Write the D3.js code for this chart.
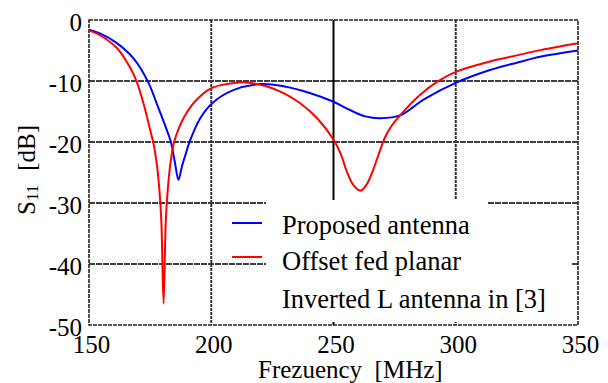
<!DOCTYPE html>
<html>
<head>
<meta charset="utf-8">
<script src="https://cdn.jsdelivr.net/npm/d3@7"></script>
<style>
  html, body { margin: 0; padding: 0; background: #fff; }
  svg { display: block; }
  text { font-family: "Liberation Serif", "DejaVu Serif", "Noto Serif", serif; fill: #000; }
</style>
</head>
<body>
<svg id="chart" width="608" height="383"></svg>
<script>
// ---- data ----
const xTicks = [150, 200, 250, 300, 350];
const yTicks = [0, -10, -20, -30, -40, -50];

const proposedFreq = [150, 154.5, 161.4, 168.2, 174.1, 177.7, 181.8, 183.5, 185.2, 186.6, 188, 189.3, 191.4, 195.5, 200.5, 209, 220, 230, 240.6, 250, 257, 263, 269.3, 277.5, 287, 300, 314, 325, 335, 350];
const proposedS11  = [-1.6, -2.2, -3.8, -6.3, -10.1, -13.7, -18.0, -20.0, -23.5, -26.2, -24.0, -22.3, -19.7, -16.1, -13.6, -11.5, -10.5, -10.9, -12.0, -13.4, -14.8, -15.8, -16.1, -15.6, -13.0, -10.3, -8.2, -7.0, -6.0, -5.0];

const offsetFreq = [150, 154.5, 161.4, 166.8, 169.5, 172.3, 175, 176.4, 177.7, 178.8, 179.6, 180.5, 181.4, 182.2, 183.3, 184.8, 186.5, 188.8, 192, 195.5, 200.5, 206.4, 213, 222.8, 229.6, 236.5, 243.3, 250, 253, 255.5, 258, 261, 263.5, 266, 268.5, 271, 273.5, 277.5, 285, 292.5, 300, 314, 325, 335, 350];
const offsetS11  = [-1.7, -2.5, -4.6, -7.8, -10.1, -13.7, -18.0, -20.3, -23.5, -27.9, -33, -46.5, -33, -27.9, -23.5, -20.0, -18.0, -16.0, -14.0, -12.5, -11.1, -10.5, -10.2, -10.9, -12.0, -13.7, -16.1, -19.6, -22.0, -24.9, -27.0, -28.0, -27.0, -24.8, -22.0, -19.3, -17.5, -15.5, -12.4, -10.1, -8.5, -6.8, -5.8, -4.9, -3.8];

const seriesNames = ["Proposed antenna", "Offset fed planar", "Inverted L antenna in [3]"];
const seriesColors = ["#0000ff", "#ff0000"];

// ---- layout ----
const FONT = '"Liberation Serif", "DejaVu Serif", "Noto Serif", serif';
const svg = d3.select("#chart");
const L = 89, R = 578, T = 20, B = 325;
const x = d3.scaleLinear().domain([150, 350]).range([L, R]);
const y = d3.scaleLinear().domain([0, -50]).range([T, B]);
const FS = 25;

// grid lines
const grid = svg.append("g");
grid.selectAll("line.h").data(yTicks.filter(d => d !== 0 && d !== -50)).join("line")
  .attr("x1", L).attr("x2", R).attr("y1", d => y(d)).attr("y2", d => y(d))
  .attr("stroke", "#000").attr("stroke-width", 1.6).attr("stroke-dasharray", "6,1");
grid.selectAll("line.v").data(xTicks.filter(d => d !== 150 && d !== 350)).join("line")
  .attr("y1", T).attr("y2", B).attr("x1", d => x(d)).attr("x2", d => x(d))
  .attr("stroke", d => d === 250 ? "#000" : "#333")
  .attr("stroke-width", 2)
  .attr("stroke-dasharray", d => d === 250 ? null : "3,1");

// frame
svg.append("rect").attr("x", L).attr("y", T).attr("width", R - L).attr("height", B - T)
  .attr("fill", "none").attr("stroke", "#222").attr("stroke-width", 1.6).attr("stroke-dasharray", "4,1");

// legend background
svg.append("rect").attr("x", 266).attr("y", 205).attr("width", 306).attr("height", 117).attr("fill", "#fff");
svg.append("rect").attr("x", 266).attr("y", 200).attr("width", 221).attr("height", 6).attr("fill", "#fff");

// curves
const line = d3.line().x(d => x(d[0])).y(d => y(d[1])).curve(d3.curveCatmullRom.alpha(0.5));
svg.append("path").datum(proposedFreq.map((f, i) => [f, proposedS11[i]]))
  .attr("d", line).attr("fill", "none").attr("stroke", seriesColors[0]).attr("stroke-width", 2);
svg.append("path").datum(offsetFreq.map((f, i) => [f, offsetS11[i]]))
  .attr("d", line).attr("fill", "none").attr("stroke", seriesColors[1]).attr("stroke-width", 2);

// axes (labels only)
const xAxis = svg.append("g").attr("transform", `translate(0,${B})`)
  .call(d3.axisBottom(x).tickValues(xTicks).tickSize(0).tickPadding(10).tickFormat(d3.format("d")));
xAxis.attr("font-family", FONT);
xAxis.select(".domain").remove();
xAxis.selectAll("text").attr("font-size", FS).attr("dx", 2).style("font-family", FONT);

const yAxis = svg.append("g").attr("transform", `translate(${L},0)`)
  .call(d3.axisLeft(y).tickValues(yTicks).tickSize(0).tickPadding(7).tickFormat(d => d === 0 ? "0" : "-" + Math.abs(d)));
yAxis.attr("font-family", FONT);
yAxis.select(".domain").remove();
yAxis.selectAll("text").attr("font-size", FS).attr("dy", "0.4em").style("font-family", FONT);

// axis titles
svg.append("text").attr("x", 258).attr("y", 378).attr("font-size", FS)
  .style("font-family", FONT).style("white-space", "pre")
  .text("Frezuency  [MHz]");

const yt = svg.append("text").attr("transform", "translate(35,215) rotate(-90)")
  .attr("font-size", FS).style("font-family", FONT).style("white-space", "pre");
yt.append("tspan").text("S");
yt.append("tspan").attr("font-size", 17).attr("dy", 3).text("11");
yt.append("tspan").attr("dy", -3).attr("dx", 14).text("[dB]");

// legend
const legY = [223, 257];
svg.selectAll("line.leg").data(seriesColors).join("line")
  .attr("x1", 232).attr("x2", 262).attr("y1", (d, i) => legY[i]).attr("y2", (d, i) => legY[i])
  .attr("stroke", d => d).attr("stroke-width", 2);
const legBase = [234, 270, 308];
svg.selectAll("text.leg").data(seriesNames).join("text")
  .attr("x", 282).attr("y", (d, i) => legBase[i]).attr("font-size", 26.5)
  .style("font-family", FONT).text(d => d);
</script>
</body>
</html>
